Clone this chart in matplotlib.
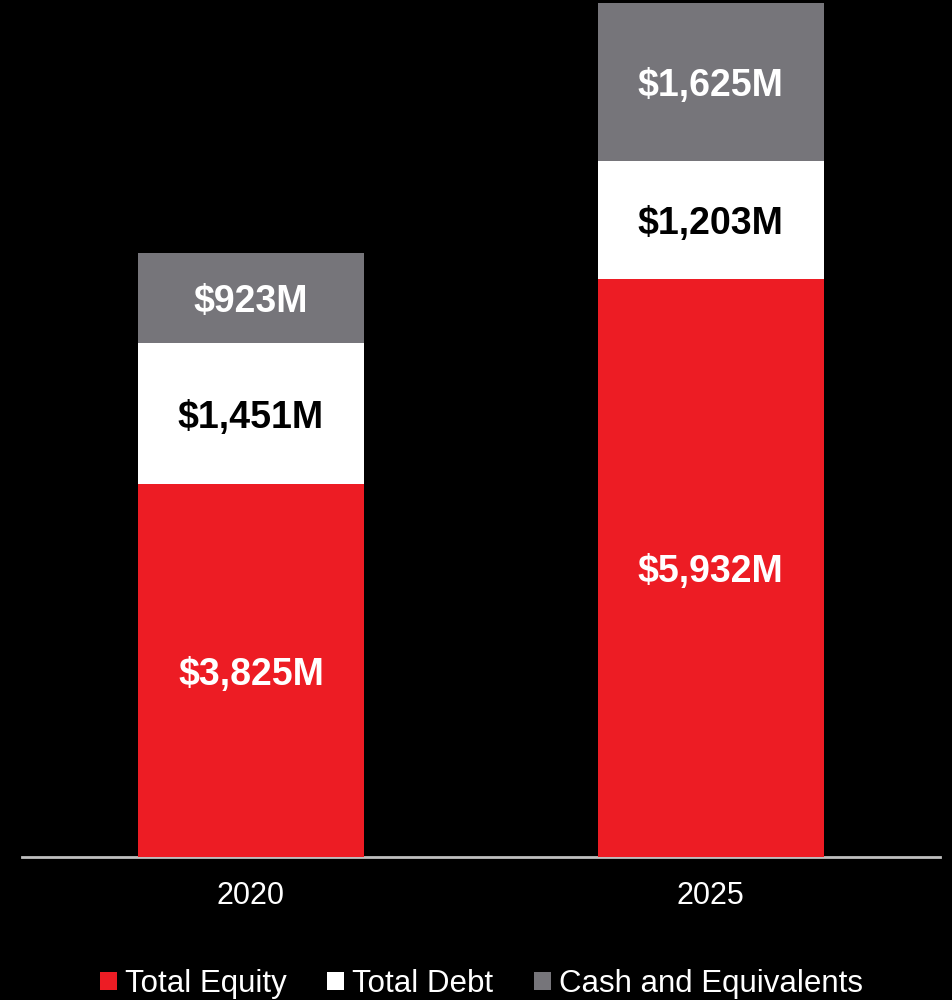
import matplotlib
matplotlib.use("Agg")
import matplotlib.pyplot as plt
from matplotlib.patches import Patch
import numpy as np

plt.rcParams['font.family'] = ['Liberation Sans', 'DejaVu Sans']

years = ["2020", "2025"]
series_names = ["Total Equity", "Total Debt", "Cash and Equivalents"]
total_equity = [3825, 5932]
total_debt = [1451, 1203]
cash_equivalents = [923, 1625]

bar_colors = ["#ED1C24", "#FFFFFF", "#76757A"]
label_colors = ["white", "black", "white"]

fig = plt.figure(figsize=(9.53, 10.0), dpi=100, facecolor="black")
ax = fig.add_axes([0.023, 0.143, 0.963, 0.857], facecolor="black")

x = np.arange(len(years))
bottom = np.zeros(len(years))
for vals, color, lcolor in zip([total_equity, total_debt, cash_equivalents], bar_colors, label_colors):
    vals = np.array(vals, dtype=float)
    ax.bar(x, vals, width=0.491, bottom=bottom, color=color, edgecolor="none", zorder=2)
    for xi, v, b in zip(x, vals, bottom):
        ax.annotate(f"${int(v):,}M", xy=(xi, b + v / 2), xytext=(0, -3),
                    textcoords="offset points", ha="center", va="center",
                    color=lcolor, fontsize=27, fontweight="bold", zorder=3)
    bottom += vals

ax.set_xlim(-0.498, 1.498)
ax.set_ylim(0, 8790)
ax.set_yticks([])
ax.set_xticks(x)
ax.set_xticklabels(years, color="white", fontsize=22)
ax.tick_params(axis="x", length=0, pad=17)
for side in ["left", "right", "top"]:
    ax.spines[side].set_visible(False)
ax.spines["bottom"].set_color("#BFBFBF")
ax.spines["bottom"].set_linewidth(2)
ax.spines["bottom"].set_zorder(1)

handles = [Patch(facecolor=c, edgecolor="none") for c in bar_colors]
leg = fig.legend(handles, series_names, loc="center", bbox_to_anchor=(0.505, 0.016),
                 ncol=3, frameon=False, fontsize=22.5, labelcolor="white",
                 handlelength=0.55, handleheight=0.55, handletextpad=0.25,
                 columnspacing=1.3, borderaxespad=0, borderpad=0)

fig.savefig("out.png", dpi=100, facecolor="black")
